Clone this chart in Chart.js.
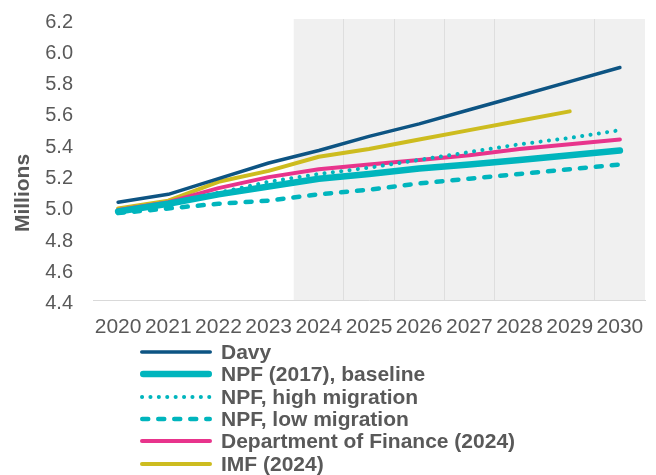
<!DOCTYPE html>
<html>
<head>
<meta charset="utf-8">
<script src="https://cdn.jsdelivr.net/npm/chart.js@4"></script>
<style>
  body { margin: 0; background: #fff; }
  #wrap { position: relative; width: 656px; height: 475px; font-family: "Liberation Sans", Arial, sans-serif; color: #595959; }
  #chartBox { position: absolute; left: 0; top: 0; width: 656px; height: 355px; }
  #yTitle { position: absolute; left: -38px; top: 180px; width: 120px; height: 26px; line-height: 26px;
            text-align: center; font-weight: bold; font-size: 21px; transform: rotate(-90deg); }
  #legend { position: absolute; left: 140px; top: 341px; }
  .row { display: flex; align-items: center; height: 22.3px; font-weight: bold; font-size: 21px; white-space: nowrap; }
  .row svg { margin-right: 9px; }
</style>
</head>
<body>
<div id="wrap">
  <div id="chartBox"><canvas id="popChart" width="656" height="355"></canvas></div>
  <div id="yTitle">Millions</div>
  <div id="legend"></div>
</div>
<script>
// Population projections, millions
const years = ['2020', '2021', '2022', '2023', '2024', '2025', '2026', '2027', '2028', '2029', '2030'];
const davy = [5.03, 5.08, 5.18, 5.28, 5.36, 5.45, 5.53, 5.62, 5.71, 5.80, 5.89];
const npfBaseline = [4.97, 5.02, 5.08, 5.13, 5.18, 5.21, 5.245, 5.27, 5.30, 5.33, 5.36];
const npfHigh = [4.97, 5.02, 5.09, 5.16, 5.21, 5.25, 5.30, 5.35, 5.40, 5.44, 5.49];
const npfLow = [4.96, 4.99, 5.02, 5.04, 5.08, 5.11, 5.15, 5.18, 5.21, 5.24, 5.27];
const finance = [4.98, 5.03, 5.12, 5.19, 5.24, 5.27, 5.30, 5.33, 5.37, 5.40, 5.43];
const imf = [4.99, 5.04, 5.16, 5.23, 5.32, 5.37, 5.43, 5.49, 5.55, 5.61, null];

const yMin = 4.4, yMax = 6.2, yStep = 0.2;
const forecastFrom = 4; // index of 2024, start of the shaded period

const navy = '#0d5483';
const teal = '#00b5bd';
const pink = '#e8348c';
const gold = '#cdbc1f';
const textGrey = '#595959';

function series(label, data, color, width, dash) {
    return {
        label: label,
        data: data,
        borderColor: color,
        backgroundColor: color,
        borderWidth: width,
        borderDash: dash,
        borderCapStyle: 'round',
        borderJoinStyle: 'round',
        pointRadius: 0,
        tension: 0,
        fill: false
    };
}

// grey background behind the projection years
const shadePlugin = {
    id: 'shade',
    beforeDraw(chart) {
        const x = chart.scales.x;
        const area = chart.chartArea;
        const left = (x.getPixelForValue(forecastFrom - 1) + x.getPixelForValue(forecastFrom)) / 2;
        const ctx = chart.ctx;
        ctx.save();
        ctx.fillStyle = '#f0f0f0';
        ctx.fillRect(left, area.top, area.right - left, area.bottom - area.top);
        ctx.restore();
    }
};

const chart = new Chart(document.getElementById('popChart').getContext('2d'), {
    type: 'line',
    data: {
        labels: years,
        datasets: [
            series('Davy', davy, navy, 3.5, []),
            series('NPF (2017), baseline', npfBaseline, teal, 6.5, []),
            series('NPF, high migration', npfHigh, teal, 4, [0.1, 8.3]),
            series('NPF, low migration', npfLow, teal, 4.5, [6, 10]),
            series('Department of Finance (2024)', finance, pink, 4, []),
            series('IMF (2024)', imf, gold, 4, [])
        ]
    },
    options: {
        responsive: false,
        animation: false,
        layout: { padding: { top: 19, right: 11, bottom: 1, left: 0 } },
        plugins: {
            legend: { display: false },
            tooltip: { enabled: false }
        },
        scales: {
            x: {
                offset: true,
                grid: {
                    offset: true,
                    drawTicks: false,
                    lineWidth: 1,
                    color: ctx => [5, 6, 7, 8, 10].includes(ctx.index) ? '#dedede' : 'rgba(0,0,0,0)'
                },
                border: { display: true, color: '#d9d9d9', width: 1 },
                afterFit: scale => { scale.paddingLeft = 0; scale.paddingRight = 0; },
                ticks: {
                    color: textGrey,
                    font: { family: 'Liberation Sans', size: 21 },
                    padding: 14,
                    autoSkip: false,
                    maxRotation: 0
                }
            },
            y: {
                min: yMin,
                max: yMax,
                grid: { display: false, drawTicks: false },
                border: { display: false },
                afterFit: scale => {
                    scale.width = 93;
                    scale.paddingTop = 0;
                    scale.paddingBottom = 0;
                },
                ticks: {
                    stepSize: yStep,
                    color: textGrey,
                    font: { family: 'Liberation Sans', size: 20 },
                    padding: 20,
                    labelOffset: 3,
                    callback: value => value.toFixed(1)
                }
            }
        }
    },
    plugins: [shadePlugin]
});

// Legend as a single left-aligned column
const legendBox = document.getElementById('legend');
chart.data.datasets.forEach(ds => {
    const w = ds.borderWidth;
    const row = document.createElement('div');
    row.className = 'row';
    row.innerHTML = `
        <svg width="72" height="10">
            <line x1="${w / 2}" y1="5" x2="${72 - w / 2}" y2="5" stroke="${ds.borderColor}"
                  stroke-width="${w}" stroke-linecap="round" stroke-dasharray="${ds.borderDash.join(' ')}"/>
        </svg>
        <span>${ds.label}</span>
    `;
    legendBox.appendChild(row);
});
</script>
</body>
</html>
